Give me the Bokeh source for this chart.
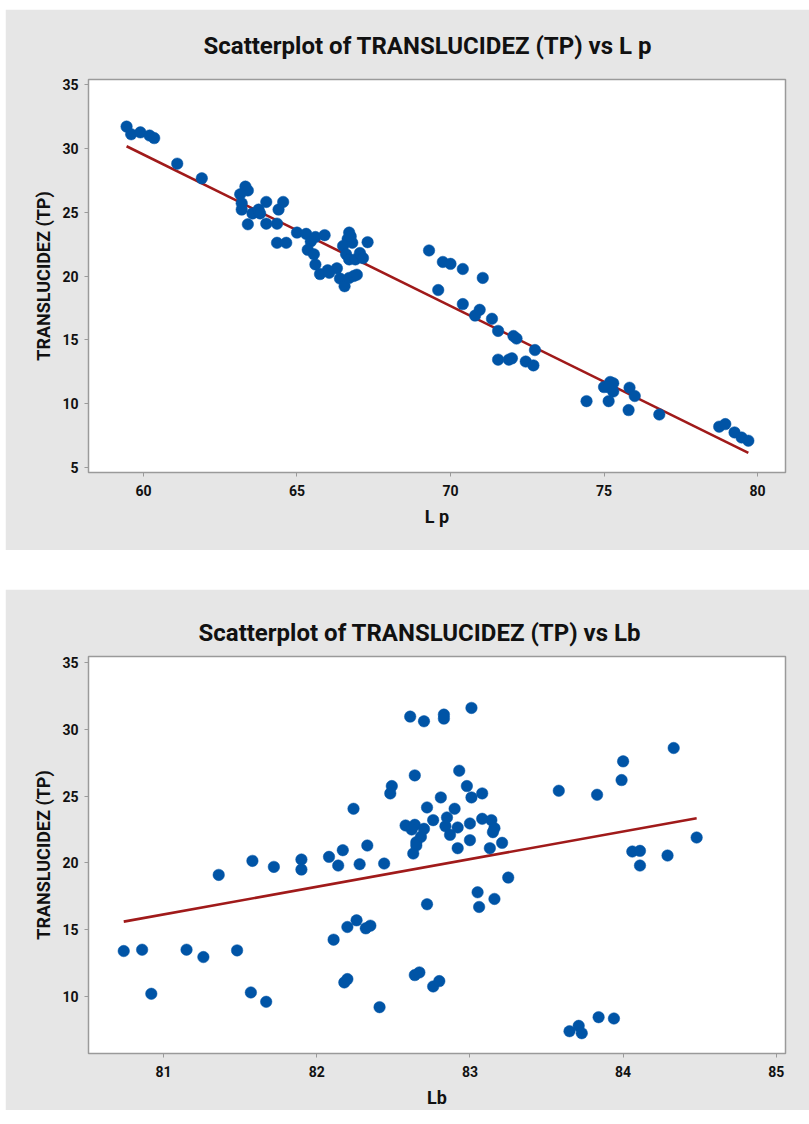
from bokeh.plotting import figure
from bokeh.layouts import column, row
from bokeh.models import FixedTicker, Range1d, ColumnDataSource, Spacer
from bokeh.embed import file_html
from bokeh.resources import INLINE

# ---------------- data: TRANSLUCIDEZ (TP) vs L p ----------------
lp_x = [59.45, 59.6, 59.9, 60.2, 60.35, 61.1, 61.9,
        63.32, 63.4, 63.15, 63.2, 63.2, 63.55, 63.75, 63.8, 64.0, 64.4, 64.55,
        63.4, 64.0, 64.35, 64.35, 64.65, 65.0, 65.3, 65.6, 65.9, 65.45, 65.35,
        65.55, 65.6, 65.75, 66.0, 66.3, 66.4, 66.55, 66.7, 66.85, 66.7, 66.65,
        66.5, 66.6, 66.7, 66.9, 67.05, 67.15, 67.3, 66.8, 66.75, 66.95, 66.05,
        69.3, 69.75, 70.0, 70.4, 71.05, 69.6, 70.4, 70.95, 70.8, 71.35, 71.55,
        72.05, 72.15, 72.75, 71.55, 71.9, 72.0, 72.45, 72.7,
        74.43, 75.15, 75.0, 75.2, 75.3, 75.15, 75.3, 75.83, 76.0, 75.8, 76.8,
        78.75, 78.95, 79.25, 79.48, 79.7]
lp_y = [31.7, 31.1, 31.25, 31.0, 30.8, 28.8, 27.65,
        27.0, 26.7, 26.4, 25.7, 25.2, 24.9, 25.2, 24.9, 25.8, 25.2, 25.8,
        24.05, 24.1, 24.1, 22.6, 22.6, 23.4, 23.3, 23.05, 23.2, 22.7, 22.05,
        21.7, 20.9, 20.15, 20.45, 20.6, 19.8, 19.2, 19.85, 20.0, 23.4, 22.9,
        22.35, 21.7, 21.3, 21.3, 21.8, 21.4, 22.65, 22.6, 23.1, 20.1, 20.25,
        22.0, 21.1, 20.95, 20.55, 19.85, 18.9, 17.8, 17.35, 16.9, 16.65, 15.7,
        15.3, 15.1, 14.2, 13.45, 13.45, 13.55, 13.3, 13.0,
        10.2, 10.2, 11.3, 11.7, 11.6, 11.3, 10.95, 11.25, 10.6, 9.5, 9.15,
        8.2, 8.4, 7.75, 7.35, 7.1]
lp_fit_slope = -1.186
lp_fit_intercept = 100.67

# ---------------- data: TRANSLUCIDEZ (TP) vs Lb ----------------
lb_x = [80.74, 80.86, 80.92, 81.15, 81.26, 81.48, 81.57, 81.67, 82.11, 82.20,
        82.26, 82.32, 82.35, 82.18, 82.20, 82.41, 82.64, 82.67, 82.76, 82.80,
        82.72, 83.06, 83.05, 83.16, 83.25, 83.65, 83.71, 83.73, 83.84, 83.94,
        81.36, 81.58, 81.72, 81.90, 81.90, 82.08, 82.17, 82.14, 82.28, 82.33,
        82.44, 82.24, 82.49, 82.48, 82.61, 82.70, 82.83, 82.83, 83.01, 82.64,
        82.93, 82.98, 83.01, 82.81, 82.72, 82.90, 82.58, 82.64, 82.62, 82.70,
        82.76, 82.85, 82.84, 82.87, 82.92, 83.00, 82.68, 82.65, 82.65, 82.63,
        82.92, 83.00, 83.08, 83.08, 83.14, 83.16, 83.15, 83.13, 83.21, 83.58,
        83.83, 83.99, 84.00, 84.33, 84.48, 84.06, 84.11, 84.11, 84.29]
lb_y = [13.4, 13.5, 10.2, 13.5, 12.95, 13.45, 10.3, 9.6, 14.25, 15.2,
        15.7, 15.1, 15.3, 11.05, 11.3, 9.2, 11.6, 11.8, 10.75, 11.15,
        16.9, 16.7, 17.8, 17.3, 18.9, 7.4, 7.8, 7.25, 8.45, 8.35,
        19.1, 20.15, 19.7, 20.25, 19.5, 20.45, 20.95, 19.8, 19.9, 21.3,
        19.95, 24.05, 25.75, 25.2, 30.95, 30.6, 31.1, 30.8, 31.6, 26.55,
        26.9, 25.75, 24.9, 24.9, 24.15, 24.05, 22.8, 22.85, 22.5, 22.55,
        23.2, 23.4, 22.75, 22.1, 22.65, 22.95, 21.95, 21.55, 21.3, 20.7,
        21.1, 21.7, 25.2, 23.3, 23.2, 22.6, 22.3, 21.1, 21.5, 25.4,
        25.1, 26.2, 27.6, 28.6, 21.9, 20.85, 20.9, 19.8, 20.55]
lb_fit_slope = 2.07
lb_fit_intercept = -151.53

y_label = "TRANSLUCIDEZ (TP)"

FONT = "Roboto, sans-serif"
PANEL = "#e6e6e6"
DOT = "#0054a6"
FIT = "#a01a1a"


def make_plot(title, xlabel, xs, ys, slope, intercept, xr, yr, xticks, yticks,
              w, h, b_top, b_bottom, title_standoff, title_offset):
    p = figure(width=w, height=h, output_backend="svg", toolbar_location=None,
               x_range=Range1d(*xr), y_range=Range1d(*yr),
               min_border_left=83, min_border_right=24,
               min_border_top=b_top, min_border_bottom=b_bottom)
    p.title.text = title
    p.title.align = "left"
    p.title.offset = title_offset
    p.title.text_font = FONT
    p.title.text_font_size = "24px"
    p.title.text_font_style = "bold"
    p.title.text_color = "#111111"
    p.title.standoff = title_standoff
    p.border_fill_color = PANEL
    p.background_fill_color = "white"
    p.outline_line_color = "#9a9a9a"
    p.outline_line_width = 1.5
    p.xgrid.visible = False
    p.ygrid.visible = False

    for ax in (p.xaxis[0], p.yaxis[0]):
        ax.axis_line_color = "#9a9a9a"
        ax.major_tick_line_color = "#9a9a9a"
        ax.major_tick_out = 4
        ax.major_tick_in = 0
        ax.minor_tick_line_color = None
        ax.major_label_text_font = FONT
        ax.major_label_text_font_size = "14px"
        ax.major_label_text_font_style = "bold"
        ax.major_label_text_color = "#111111"
        ax.axis_label_text_font = FONT
        ax.axis_label_text_font_size = "18px"
        ax.axis_label_text_font_style = "bold"
        ax.axis_label_text_color = "#111111"
    p.xaxis[0].ticker = FixedTicker(ticks=xticks)
    p.yaxis[0].ticker = FixedTicker(ticks=yticks)
    p.xaxis[0].axis_label = xlabel
    p.yaxis[0].axis_label = y_label
    p.xaxis[0].major_label_standoff = 8
    p.yaxis[0].major_label_standoff = 6
    p.xaxis[0].axis_label_standoff = 7
    p.yaxis[0].axis_label_standoff = 5

    src = ColumnDataSource(dict(x=xs, y=ys))
    x0, x1 = min(xs), max(xs)
    p.line([x0, x1], [intercept + slope * x0, intercept + slope * x1],
           line_color=FIT, line_width=2.6)
    p.scatter("x", "y", source=src, size=11.5, fill_color=DOT, line_color=DOT,
              line_width=0.5)
    return p


p1 = make_plot("Scatterplot of TRANSLUCIDEZ (TP) vs L p", "L p", lp_x, lp_y,
               lp_fit_slope, lp_fit_intercept, (58.21, 80.91), (4.61, 35.39),
               [60, 65, 70, 75, 80], [5, 10, 15, 20, 25, 30, 35],
               804, 541, 69, 78, 40, 115)
p2 = make_plot("Scatterplot of TRANSLUCIDEZ (TP) vs Lb", "Lb", lb_x, lb_y,
               lb_fit_slope, lb_fit_intercept, (80.51, 85.06), (5.73, 35.45),
               [81, 82, 83, 84, 85], [10, 15, 20, 25, 30, 35],
               804, 521, 67, 57, 20, 110)

layout = row(Spacer(width=5, height=10),
             column(Spacer(width=10, height=9), p1, Spacer(width=10, height=39), p2,
                    spacing=0),
             spacing=0)
open("out.html", "w").write(file_html(layout, INLINE))
